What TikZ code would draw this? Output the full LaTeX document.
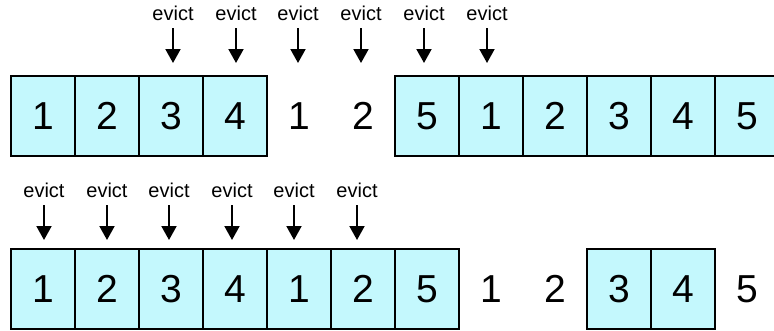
\documentclass[tikz,border=0pt]{standalone}
\usepackage{fontspec}
\setmainfont{Liberation Sans}
\usetikzlibrary{arrows.meta}
\definecolor{cellfill}{RGB}{196,248,253}
\tikzset{
  cell/.style={draw=black, fill=cellfill, line width=2pt, minimum width=64pt, minimum height=80pt, inner sep=0pt, font=\fontsize{39}{39}\selectfont},
  plain/.style={inner sep=0pt, font=\fontsize{39}{39}\selectfont},
  evlabel/.style={inner sep=0pt, font=\fontsize{20}{20}\selectfont},
  evarrow/.style={line width=2pt, -{Triangle[width=15pt,length=14pt]}}
}
\begin{document}
\begin{tikzpicture}[x=1pt,y=-1pt]
\useasboundingbox (0,0) rectangle (774,330);
\clip (0,0) rectangle (774,330);
% top row
\foreach \s/\t [count=\k] in {0/1,1/2,2/3,3/4,6/5,7/1,8/2,9/3,10/4,11/5}
  \node[cell] (t\k) at ({43+64*\s},116) {\t};
\node[plain] (tp1) at (299,116) {1};
\node[plain] (tp2) at (363,116) {2};
\foreach \x [count=\k] in {173,236,298,361,424,487} {
  \node[evlabel] (te\k) at (\x,13) {evict};
  \coordinate (tas\k) at (\x,28);
  \coordinate (tae\k) at (\x,63);
  \draw[evarrow] (tas\k) -- (tae\k);
}
% bottom row
\foreach \s/\t [count=\k] in {0/1,1/2,2/3,3/4,4/1,5/2,6/5,9/3,10/4}
  \node[cell] (b\k) at ({43+64*\s},289) {\t};
\node[plain] (bp1) at (491,289) {1};
\node[plain] (bp2) at (555,289) {2};
\node[plain] (bp3) at (747,289) {5};
\foreach \x [count=\k] in {44,107,169,232,294,357} {
  \node[evlabel] (be\k) at (\x,190) {evict};
  \coordinate (bas\k) at (\x,205);
  \coordinate (bae\k) at (\x,240);
  \draw[evarrow] (bas\k) -- (bae\k);
}
\end{tikzpicture}
\end{document}
